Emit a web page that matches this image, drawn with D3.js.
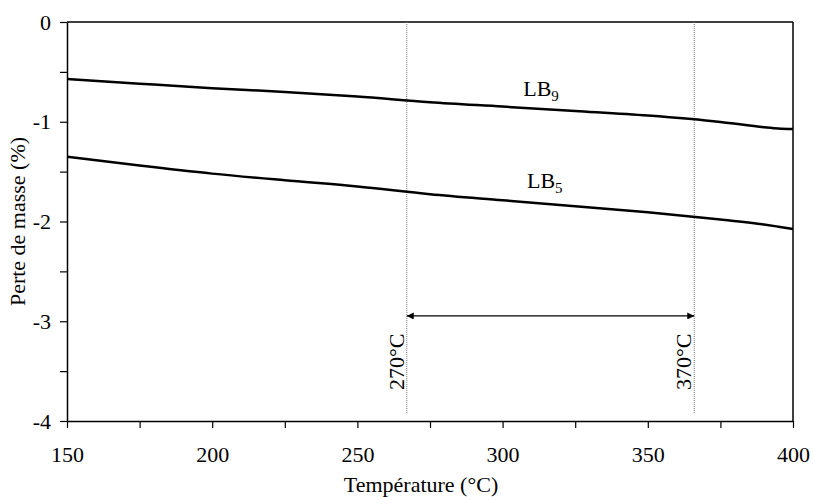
<!DOCTYPE html>
<html>
<head>
<meta charset="utf-8">
<script src="https://cdn.jsdelivr.net/npm/d3@7"></script>
<style>
  body { margin: 0; background: #fff; }
  svg text { font-family: "Liberation Serif", "Times New Roman", serif; fill: #000; }
</style>
</head>
<body>
<svg id="chart" width="813" height="497"></svg>
<script>
// ---- data ----
const temperatures = [150, 175, 200, 225, 250, 275, 300, 325, 350, 375, 390, 395, 400];
const lb9 = [-0.571, -0.618, -0.663, -0.701, -0.748, -0.805, -0.848, -0.892, -0.938, -1.002, -1.055, -1.068, -1.073];
const lb5 = [-1.350, -1.439, -1.520, -1.587, -1.649, -1.726, -1.787, -1.847, -1.907, -1.980, -2.030, -2.052, -2.075];
const seriesNames = ["LB9", "LB5"];
const xTicks = [150, 175, 200, 225, 250, 275, 300, 325, 350, 375, 400];
const xTickLabels = [150, 200, 250, 300, 350, 400];
const yTicks = [0, -0.5, -1, -1.5, -2, -2.5, -3, -3.5, -4];
const yTickLabels = [0, -1, -2, -3, -4];
const markerTemps = [267, 366];
const markerLabels = ["270°C", "370°C"];
const arrowValue = -2.947;
const markerBottom = -3.92;

// ---- layout ----
const W = 813, H = 497;
const margin = { top: 22, right: 20, bottom: 76, left: 67 };
const iw = W - margin.left - margin.right;
const ih = H - margin.top - margin.bottom;

const svg = d3.select("#chart");
const g = svg.append("g").attr("transform", `translate(${margin.left},${margin.top})`);

const x = d3.scaleLinear().domain([150, 400]).range([0, iw]);
const y = d3.scaleLinear().domain([-4, 0]).range([ih, 0]);

// frame (top and right)
g.append("line").attr("x1", 0).attr("x2", iw).attr("y1", 0).attr("y2", 0)
  .attr("stroke", "#000").attr("stroke-width", 1.5);
g.append("line").attr("x1", iw).attr("x2", iw).attr("y1", 0).attr("y2", ih)
  .attr("stroke", "#000").attr("stroke-width", 1.5);

// axes
const xAxis = d3.axisBottom(x).tickValues(xTicks).tickSize(7).tickSizeOuter(0).tickPadding(18)
  .tickFormat(d => xTickLabels.includes(d) ? String(d) : "");
const gx = g.append("g").attr("transform", `translate(0,${ih})`).call(xAxis);

const yAxis = d3.axisLeft(y).tickValues(yTicks).tickSize(7).tickSizeOuter(0).tickPadding(9)
  .tickFormat(d => yTickLabels.includes(d) ? String(d) : "");
const gy = g.append("g").call(yAxis);

[gx, gy].forEach(a => {
  a.select(".domain").attr("stroke", "#000").attr("stroke-width", 1.5);
  a.selectAll(".tick line").attr("stroke", "#000").attr("stroke-width", 1.2);
  a.selectAll(".tick text").attr("font-size", "22px")
    .attr("font-family", "'Liberation Serif', 'Times New Roman', serif").attr("fill", "#000");
});

// marker lines
markerTemps.forEach((t, i) => {
  g.append("line")
    .attr("x1", x(t)).attr("x2", x(t)).attr("y1", y(0)).attr("y2", y(markerBottom))
    .attr("stroke", "#777").attr("stroke-width", 1).attr("stroke-dasharray", "1,1");
  g.append("text")
    .attr("transform", `translate(${x(t) - 3},${y(-3.69)}) rotate(-90)`)
    .attr("font-size", "22px").attr("text-anchor", "start")
    .text(markerLabels[i]);
});

// double arrow
const defs = svg.append("defs");
defs.append("marker").attr("id", "ahEnd").attr("viewBox", "0 0 10 10")
  .attr("refX", 10).attr("refY", 5).attr("markerWidth", 9).attr("markerHeight", 7)
  .attr("markerUnits", "userSpaceOnUse").attr("orient", "auto")
  .append("path").attr("d", "M0,0 L10,5 L0,10 Z").attr("fill", "#000");
defs.append("marker").attr("id", "ahStart").attr("viewBox", "0 0 10 10")
  .attr("refX", 0).attr("refY", 5).attr("markerWidth", 9).attr("markerHeight", 7)
  .attr("markerUnits", "userSpaceOnUse").attr("orient", "auto")
  .append("path").attr("d", "M10,0 L0,5 L10,10 Z").attr("fill", "#000");
g.append("line")
  .attr("x1", x(markerTemps[0])).attr("x2", x(markerTemps[1]))
  .attr("y1", y(arrowValue)).attr("y2", y(arrowValue))
  .attr("stroke", "#000").attr("stroke-width", 1.3)
  .attr("marker-start", "url(#ahStart)").attr("marker-end", "url(#ahEnd)");

// curves
const line = d3.line().x(d => x(d[0])).y(d => y(d[1])).curve(d3.curveMonotoneX);
[lb9, lb5].forEach(vals => {
  g.append("path")
    .datum(temperatures.map((t, i) => [t, vals[i]]))
    .attr("fill", "none").attr("stroke", "#000").attr("stroke-width", 2.5)
    .attr("d", line);
});

// series labels
const labelPos = [[307.1, -0.742], [308.4, -1.667]];
seriesNames.forEach((name, i) => {
  const t = g.append("text")
    .attr("x", x(labelPos[i][0])).attr("y", y(labelPos[i][1]))
    .attr("font-size", "22px");
  t.append("tspan").text(name.slice(0, 2));
  t.append("tspan").attr("font-size", "15px").attr("dy", 5).text(name.slice(2));
});

// axis titles
svg.append("text")
  .attr("x", 421).attr("y", 492).attr("text-anchor", "middle")
  .attr("font-size", "22px").text("Température (°C)");
svg.append("text")
  .attr("transform", `translate(25,${margin.top + y(-2)}) rotate(-90)`)
  .attr("text-anchor", "middle").attr("font-size", "22px")
  .text("Perte de masse (%)");
</script>
</body>
</html>
